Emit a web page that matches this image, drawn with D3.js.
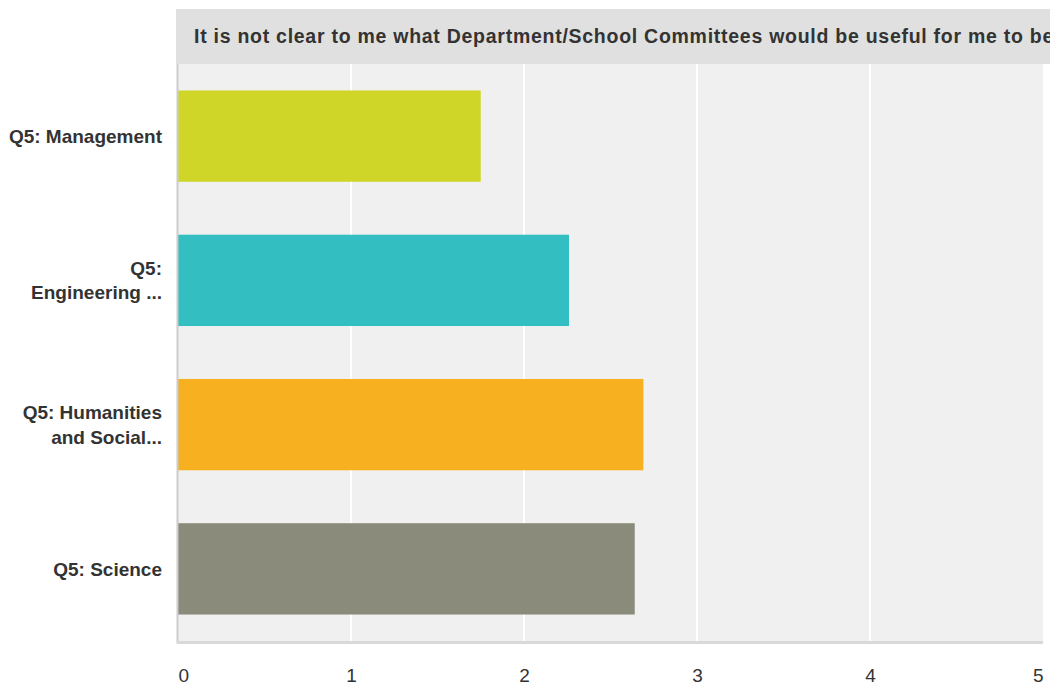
<!DOCTYPE html>
<html><head><meta charset="utf-8">
<script src="https://cdn.jsdelivr.net/npm/d3@7/dist/d3.min.js"></script>
<style>
html,body{margin:0;padding:0;background:#fff;}
svg{display:block;font-family:"Liberation Sans",Arial,Helvetica,sans-serif;}
</style></head>
<body><svg id="c" width="1050" height="685"></svg>
<script>
const title = "It is not clear to me what Department/School Committees would be useful for me to be on";
const categories = ["Q5: Management", "Q5: Engineering ...", "Q5: Humanities and Social...", "Q5: Science"];
const labelLines = [["Q5: Management"], ["Q5:", "Engineering ..."], ["Q5: Humanities", "and Social..."], ["Q5: Science"]];
const values = [1.75, 2.26, 2.69, 2.64];
const colors = ["#cfd628", "#33bec1", "#f7b01f", "#8a8b7a"];
const xTicks = [0, 1, 2, 3, 4, 5];

const svg = d3.select("#c");
const L = 178, R = 1043, T = 64, B = 641;

const x = d3.scaleLinear().domain([0, 5]).range([L, R]);
const y = d3.scaleBand().domain(categories).range([T, B]).paddingInner(0.367).paddingOuter(0.1835);

// title box
svg.append("rect").attr("x", 176).attr("y", 9).attr("width", 1050 - 176).attr("height", T - 9).attr("fill", "#e0e0e0");
const tt = svg.append("text").attr("x", 194).attr("y", 42.5).attr("fill", "#333")
  .attr("font-size", 19.5).attr("font-weight", "bold");
tt.text(title.slice(0, title.lastIndexOf(" on")));
const w = tt.node().getComputedTextLength();
const n = title.lastIndexOf(" on");
const ls = Math.max(0, (1054 - 194 - w) / n);
tt.attr("letter-spacing", ls).text(title);

// plot background
svg.append("rect").attr("x", L).attr("y", T).attr("width", R - L).attr("height", B - T).attr("fill", "#f0f0f0");

// grid
svg.append("g").selectAll("line").data(xTicks.slice(1, -1)).join("line")
  .attr("x1", d => x(d)).attr("x2", d => x(d)).attr("y1", T).attr("y2", B)
  .attr("stroke", "#fff").attr("stroke-width", 2);

// bars
svg.append("g").selectAll("rect").data(categories).join("rect")
  .attr("x", x(0)).attr("y", d => y(d))
  .attr("width", (d, i) => x(values[i]) - x(0))
  .attr("height", y.bandwidth())
  .attr("fill", (d, i) => colors[i]);

// left axis line
svg.append("line").attr("x1", L - 0.5).attr("x2", L - 0.5).attr("y1", T).attr("y2", B + 1)
  .attr("stroke", "#cccccc").attr("stroke-width", 2);
// bottom axis line
svg.append("rect").attr("x", L - 1.5).attr("y", B).attr("width", R - L + 1.5).attr("height", 3).attr("fill", "#d9d9d9");

// y axis labels
const yAxis = d3.axisLeft(y).tickSize(0).tickPadding(0);
const gy = svg.append("g").attr("transform", `translate(162,0)`).call(yAxis);
gy.select(".domain").remove();
gy.selectAll(".tick text").each(function(d, i) {
  const t = d3.select(this);
  t.text(null).attr("x", 0).attr("dy", null).attr("text-anchor", "end")
    .attr("fill", "#333").attr("font-size", 19).attr("font-weight", "bold")
    .attr("font-family", "\"Liberation Sans\",Arial,sans-serif");
  const lines = labelLines[i];
  const lh = 24.5;
  const y0 = 6.8 - (lines.length - 1) * lh / 2;
  lines.forEach((ln, k) => {
    t.append("tspan").attr("x", 0).attr("y", y0 + k * lh).text(ln);
  });
});

// x axis labels
const xAxis = d3.axisBottom(x).tickValues(xTicks).tickSize(0).tickPadding(0).tickFormat(d3.format("d"));
const gx = svg.append("g").attr("transform", `translate(0,682)`).call(xAxis);
gx.select(".domain").remove();
gx.selectAll(".tick text")
  .attr("y", 0).attr("dy", null)
  .attr("fill", "#333").attr("font-size", 19)
  .attr("font-family", "\"Liberation Sans\",Arial,sans-serif")
  .attr("text-anchor", d => d === 0 ? "start" : (d === 5 ? "end" : "middle"));
</script></body></html>
